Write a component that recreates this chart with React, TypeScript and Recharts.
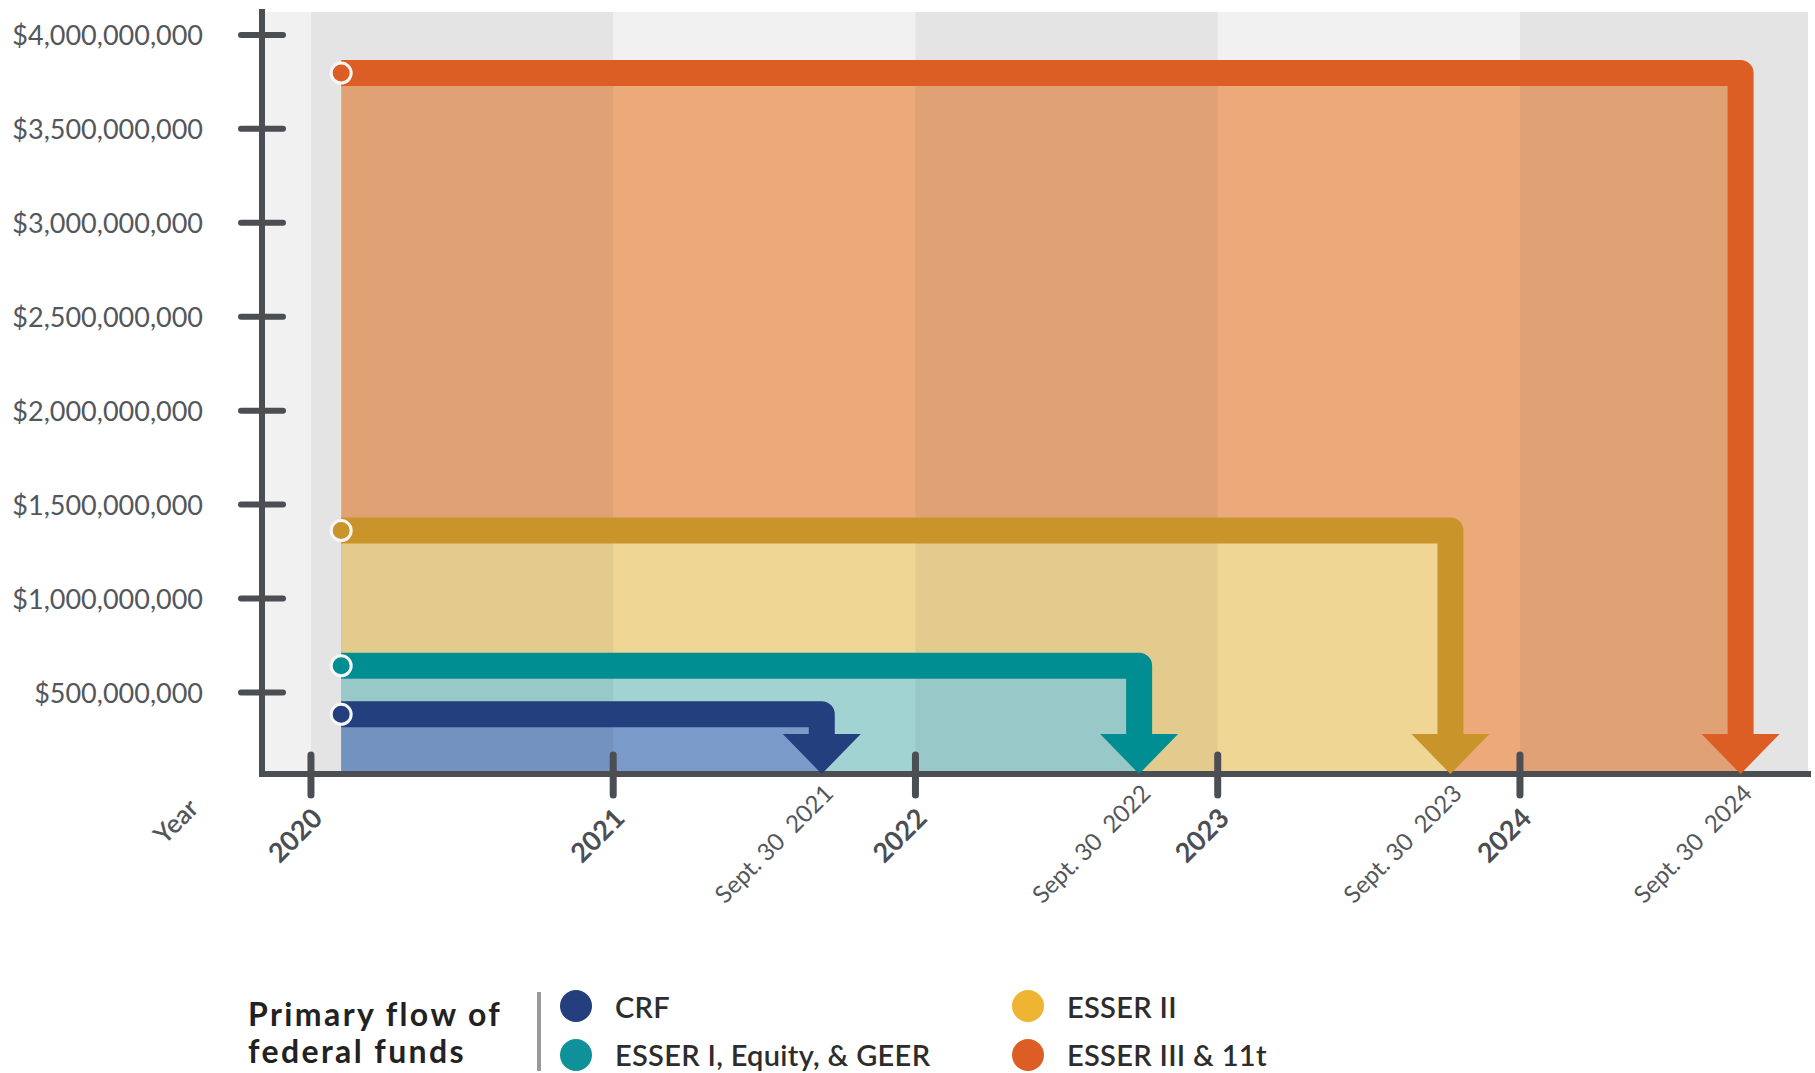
import React from 'react';
import { ComposedChart, Area, Line, XAxis, YAxis } from 'recharts';

// series
const seriesNames = ['CRF', 'ESSER I, Equity, & GEER', 'ESSER II', 'ESSER III & 11t'];
const amounts = [384000000, 642000000, 1362000000, 3797000000];
const startYears = [2020.1, 2020.1, 2020.1, 2020.1];
const endYears = [2021.69, 2022.74, 2023.77, 2024.73];
const deadlineLabels = ['Sept. 30  2021', 'Sept. 30  2022', 'Sept. 30  2023', 'Sept. 30  2024'];

// axes
const yearTicks = [2020, 2021, 2022, 2023, 2024];
const amountTicks = [
  500000000, 1000000000, 1500000000, 2000000000, 2500000000, 3000000000, 3500000000, 4000000000,
];

const lineColors = ['#233f7d', '#008e93', '#c9952b', '#dc5e25'];
const fillColors = ['#7a9bc9', '#a2d3d3', '#f0d695', '#ecaa7b'];
const legendColors = ['#233f7d', '#0e9199', '#efb431', '#dc5e25'];

const X_MIN = 2019.838;
const X_MAX = 2024.953;
const Y_MIN = 66000000;
const Y_MAX = 4122000000;

const FONT = 'Lato, "Open Sans", sans-serif';
const AXIS_COLOR = '#4b4e53';
const LABEL_COLOR = '#53575c';
const STEM_W = 26;
const ARROW_W = 78;
const ARROW_H = 40;

const flows = seriesNames.map((name, i) => ({
  name,
  fillData: [
    { x: startYears[i], v: amounts[i] },
    { x: endYears[i], v: amounts[i] },
  ],
  pathData: [
    { x: startYears[i], v: amounts[i] },
    { x: endYears[i], v: amounts[i] },
    { x: endYears[i], v: Y_MIN },
  ],
}));

const backgroundData = [
  { x: X_MIN, v: Y_MAX },
  { x: X_MAX, v: Y_MAX },
];

// every other year is shaded a bit darker
const darkBands = yearTicks
  .filter((_, i) => i % 2 === 0)
  .map((y) => [
    { x: y, v: Y_MAX },
    { x: Math.min(y + 1, X_MAX), v: Y_MAX },
  ]);

const xTicks = [...yearTicks, ...endYears].sort((a, b) => a - b);

// draws the bent arrow of a flow once all three points are known
const makeFlowDot = (color: string) => (props: any) => {
  const { points, index, key } = props;
  if (!points || index !== points.length - 1) return <g key={key} />;
  const [p0, p1, p2] = points;
  return (
    <g key={key}>
      <path
        d={`M${p0.x},${p0.y}L${p1.x},${p1.y}L${p2.x},${p2.y - ARROW_H + 1}`}
        fill="none"
        stroke={color}
        strokeWidth={STEM_W}
        strokeLinejoin="round"
      />
      <polygon
        points={`${p2.x - ARROW_W / 2},${p2.y - ARROW_H} ${p2.x + ARROW_W / 2},${p2.y - ARROW_H} ${p2.x},${p2.y}`}
        fill={color}
      />
      <circle cx={p0.x} cy={p0.y} r={10} fill={color} stroke="#f7f7f7" strokeWidth={3} />
    </g>
  );
};

const YTick = (props: any) => {
  const { x, y, payload } = props;
  return (
    <g>
      <line x1={x - 21} x2={x + 21} y1={y} y2={y} stroke={AXIS_COLOR} strokeWidth={6} strokeLinecap="round" />
      <text
        x={x - 59}
        y={y}
        textAnchor="end"
        dominantBaseline="central"
        fontFamily={FONT}
        fontSize={27}
        fill={LABEL_COLOR}
      >
        {'$' + Number(payload.value).toLocaleString('en-US')}
      </text>
    </g>
  );
};

const XTick = (props: any) => {
  const { x, y, payload } = props;
  const v = payload.value;
  if (yearTicks.indexOf(v) >= 0) {
    return (
      <g>
        <line x1={x} x2={x} y1={y - 19} y2={y + 21} stroke={AXIS_COLOR} strokeWidth={7} strokeLinecap="round" />
        <text
          transform={`translate(${x + 13},${y + 46}) rotate(-45)`}
          textAnchor="end"
          fontFamily={FONT}
          fontWeight={700}
          fontSize={27}
          fill={AXIS_COLOR}
        >
          {v}
        </text>
      </g>
    );
  }
  const di = endYears.indexOf(v);
  return (
    <text
      transform={`translate(${x + 13},${y + 21}) rotate(-45)`}
      textAnchor="end"
      fontFamily={FONT}
      fontSize={24}
      fill={LABEL_COLOR}
      style={{ whiteSpace: 'pre' }}
    >
      {deadlineLabels[di]}
    </text>
  );
};

const YearLabel = (props: any) => {
  const { viewBox } = props;
  if (!viewBox) return null;
  return (
    <text
      transform={`translate(${viewBox.x - 62},${viewBox.y + 36}) rotate(-45)`}
      textAnchor="end"
      fontFamily={FONT}
      fontWeight={600}
      fontSize={26}
      fill={LABEL_COLOR}
    >
      Year
    </text>
  );
};

const legendCols = [
  [0, 1],
  [2, 3],
];

const App = () => {
  return (
    <div style={{ position: 'absolute', left: 0, top: 0, width: 1815, height: 1073, background: '#fff', fontFamily: FONT }}>
      <ComposedChart width={1815} height={960} margin={{ top: 12, right: 7, left: 0, bottom: 0 }}>
        <Area
          data={backgroundData}
          dataKey="v"
          type="linear"
          stroke="none"
          fill="#f1f1f1"
          fillOpacity={1}
          dot={false}
          activeDot={false}
          isAnimationActive={false}
        />
        {[3, 2, 1, 0].map((i) => (
          <Area
            key={`fill-${i}`}
            data={flows[i].fillData}
            dataKey="v"
            name={flows[i].name}
            type="linear"
            stroke="none"
            fill={fillColors[i]}
            fillOpacity={1}
            dot={false}
            activeDot={false}
            isAnimationActive={false}
          />
        ))}
        {darkBands.map((band, i) => (
          <Area
            key={`band-${i}`}
            data={band}
            dataKey="v"
            type="linear"
            stroke="none"
            fill="#000"
            fillOpacity={0.05}
            dot={false}
            activeDot={false}
            isAnimationActive={false}
          />
        ))}
        {[3, 2, 1, 0].map((i) => (
          <Line
            key={`flow-${i}`}
            data={flows[i].pathData}
            dataKey="v"
            name={flows[i].name}
            type="linear"
            stroke="none"
            dot={makeFlowDot(lineColors[i])}
            activeDot={false}
            isAnimationActive={false}
          />
        ))}
        <XAxis
          type="number"
          dataKey="x"
          domain={[X_MIN, X_MAX]}
          allowDataOverflow
          ticks={xTicks}
          interval={0}
          tick={<XTick />}
          tickLine={false}
          tickSize={0}
          tickMargin={0}
          height={186}
          axisLine={{ stroke: AXIS_COLOR, strokeWidth: 6, strokeLinecap: 'square' }}
          label={<YearLabel />}
        />
        <YAxis
          type="number"
          domain={[Y_MIN, Y_MAX]}
          allowDataOverflow
          ticks={amountTicks}
          interval={0}
          tick={<YTick />}
          tickLine={false}
          tickSize={0}
          tickMargin={0}
          width={262}
          axisLine={{ stroke: AXIS_COLOR, strokeWidth: 6, strokeLinecap: 'square' }}
        />
      </ComposedChart>

      {/* legend */}
      <div
        style={{
          position: 'absolute',
          left: 248,
          top: 995,
          fontSize: 32,
          fontWeight: 700,
          letterSpacing: 2.4,
          lineHeight: '37px',
          color: '#222',
          whiteSpace: 'nowrap',
        }}
      >
        Primary flow of
        <br />
        federal funds
      </div>
      <div style={{ position: 'absolute', left: 537, top: 992, width: 4, height: 79, background: '#9a9a9a' }} />
      {legendCols.map((col, ci) =>
        col.map((si, ri) => (
          <div
            key={`leg-${si}`}
            style={{
              position: 'absolute',
              left: ci === 0 ? 560 : 1012,
              top: 1006 + ri * 48.5 - 20,
              height: 40,
              display: 'flex',
              alignItems: 'center',
            }}
          >
            <span
              style={{
                display: 'inline-block',
                width: 32,
                height: 32,
                borderRadius: '50%',
                background: legendColors[si],
                marginRight: 23,
              }}
            />
            <span style={{ fontSize: 29, fontWeight: 600, letterSpacing: 0.3, color: '#2d2d2d', whiteSpace: 'nowrap' }}>
              {seriesNames[si]}
            </span>
          </div>
        ))
      )}
    </div>
  );
};

export default App;
